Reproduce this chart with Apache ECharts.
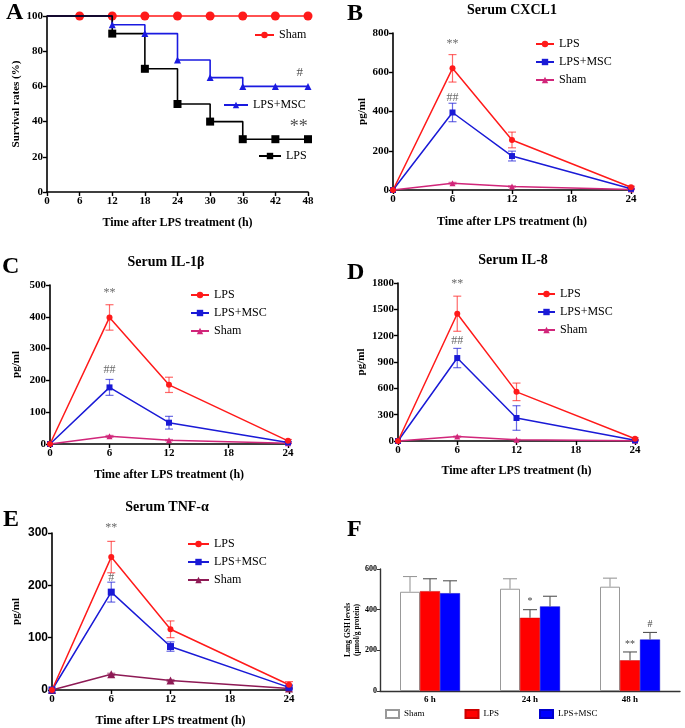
<!DOCTYPE html>
<html>
<head>
<meta charset="utf-8">
<script src="https://cdn.jsdelivr.net/npm/echarts@6/dist/echarts.min.js"></script>
<style>
html,body{margin:0;padding:0;background:#fff;}
#chart{width:685px;height:728px;}
</style>
</head>
<body>
<div id="chart"></div>
<script>
// ---------- DATA ----------
// Panel A: survival (step curves)
const survShamT = [0, 6, 12, 18, 24, 30, 36, 42, 48];
const survSham  = [100, 100, 100, 100, 100, 100, 100, 100, 100];
const survMscT  = [0, 12, 18, 24, 30, 36, 42, 48];
const survMsc   = [100, 95, 90, 75, 65, 60, 60, 60];
const survLpsT  = [0, 12, 18, 24, 30, 36, 42, 48];
const survLps   = [100, 90, 70, 50, 40, 30, 30, 30];

// Panels B-E: serum cytokines
const cytTimes = [0, 6, 12, 24];
const cxclLps = [0, 620, 255, 14],  cxclLpsErr = [0, 70, 40, 5];
const cxclMsc = [0, 395, 173, 6],   cxclMscErr = [0, 47, 25, 3];
const cxclSham = [0, 35, 18, 2],    cxclShamErr = [0, 4, 3, 1];

const il1Lps = [0, 398, 186, 10],   il1LpsErr = [0, 40, 24, 4];
const il1Msc = [0, 178, 67, 5],     il1MscErr = [0, 25, 20, 3];
const il1Sham = [0, 24, 12, 2],     il1ShamErr = [0, 3, 2, 1];

const il8Lps = [0, 1450, 560, 25],  il8LpsErr = [0, 200, 100, 10];
const il8Msc = [0, 945, 262, 8],    il8MscErr = [0, 110, 140, 5];
const il8Sham = [0, 50, 15, 3],     il8ShamErr = [0, 6, 4, 1];

const tnfLps = [0, 254, 116, 10],   tnfLpsErr = [0, 30, 16, 6];
const tnfMsc = [0, 187, 83, 5],     tnfMscErr = [0, 19, 9, 3];
const tnfSham = [0, 30, 18, 3],     tnfShamErr = [0, 2, 2, 1];

// significance marks (x, y in data units, text)
const annA = [[46.5, 68, '#'], [46.3, 37, '**']];
const annB = [[6, 745, '**'], [6, 472, '##']];
const annC = [[6, 475, '**'], [6, 232, '##']];
const annD = [[6, 1790, '**'], [6, 1140, '##']];
const annE = [[6, 310, '**'], [6, 215, '#']];

// Panel F: lung GSH
const gshCats = ['6 h', '24 h', '48 h'];
const gshSham = [488, 503, 513], gshShamErr = [75, 49, 42];
const gshLps  = [491, 360, 151], gshLpsErr  = [61, 40, 41];
const gshMsc  = [481, 416, 253], gshMscErr  = [61, 50, 35];
const gshLpsMarks = ['', '*', '**'];
const gshMscMarks = ['', '', '#'];

// ---------- STYLE ----------
const SERIF = '"Liberation Serif", "Times New Roman", serif';
const SANS = '"Liberation Sans", Arial, sans-serif';
const RED = '#ff1a1a', BLUE = '#1a1ad6', PINK = '#d1267a', MAROON = '#8e1a55';

const chart = echarts.init(document.getElementById('chart'), null, {renderer: 'canvas'});

const pairs = (xs, ys) => xs.map((x, i) => [x, ys[i]]);
const triples = (xs, ys, es) => xs.map((x, i) => [x, ys[i], es[i]]);
const plain = v => String(v);

function axisLab(size, fam) {
  return {color: '#000', fontFamily: fam || SERIF, fontWeight: 'bold', fontSize: size || 11, margin: 4, formatter: plain};
}
function valueX(grid, max, interval, name, nameGap) {
  return {
    type: 'value', gridIndex: grid, min: 0, max: max, interval: interval,
    axisLine: {show: true, lineStyle: {color: '#000', width: 1.6}},
    axisTick: {show: true, length: 4, lineStyle: {color: '#000', width: 1.4}},
    axisLabel: axisLab(11),
    splitLine: {show: false},
    name: name, nameLocation: 'middle', nameGap: nameGap,
    nameTextStyle: {color: '#000', fontFamily: SERIF, fontWeight: 'bold', fontSize: 12}
  };
}
function valueY(grid, max, interval, name, nameGap, labFam, labSize) {
  return {
    type: 'value', gridIndex: grid, min: 0, max: max, interval: interval,
    axisLine: {show: true, lineStyle: {color: '#000', width: 1.6}},
    axisTick: {show: true, length: 4, lineStyle: {color: '#000', width: 1.4}},
    axisLabel: axisLab(labSize || 11, labFam),
    splitLine: {show: false},
    name: name, nameLocation: 'middle', nameGap: nameGap, nameRotate: 90,
    nameTextStyle: {color: '#000', fontFamily: SERIF, fontWeight: 'bold', fontSize: 11}
  };
}

function errSeries(name, grid, xs, ys, es, color) {
  return {
    type: 'custom', name: name, xAxisIndex: grid, yAxisIndex: grid, z: 1, clip: false,
    data: triples(xs, ys, es),
    encode: {x: 0, y: 1},
    renderItem: function (params, api) {
      const x = api.value(0), y = api.value(1), e = api.value(2);
      if (!e) return null;
      const hi = api.coord([x, y + e]);
      const lo = api.coord([x, Math.max(0, y - e)]);
      const w = 4;
      const st = {stroke: color, lineWidth: 1.2, opacity: 0.65};
      return {type: 'group', children: [
        {type: 'line', shape: {x1: hi[0], y1: hi[1], x2: lo[0], y2: lo[1]}, style: st},
        {type: 'line', shape: {x1: hi[0] - w, y1: hi[1], x2: hi[0] + w, y2: hi[1]}, style: st},
        {type: 'line', shape: {x1: lo[0] - w, y1: lo[1], x2: lo[0] + w, y2: lo[1]}, style: st}
      ]};
    }
  };
}

function lineSeries(name, grid, xs, ys, color, symbol, size) {
  return {
    type: 'line', name: name, xAxisIndex: grid, yAxisIndex: grid, z: 3, clip: false,
    data: pairs(xs, ys), symbol: symbol, symbolSize: size,
    lineStyle: {color: color, width: 1.5},
    itemStyle: {color: color}
  };
}

function annSeries(grid, arr, color, size) {
  return {
    type: 'scatter', name: 'ann' + grid, xAxisIndex: grid, yAxisIndex: grid, z: 5,
    symbolSize: 0, silent: true, clip: false,
    data: arr.map(a => ({value: [a[0], a[1]], label: {formatter: a[2]}})),
    label: {show: true, position: 'inside', color: color, fontFamily: SERIF, fontSize: size}
  };
}

function survSeries(name, xs, ys, color, symbol, size) {
  return {
    type: 'line', name: name, xAxisIndex: 0, yAxisIndex: 0, step: 'end', clip: false,
    data: xs.map((x, i) => (i === 0 ? {value: [x, ys[i]], symbol: 'none'} : [x, ys[i]])),
    symbol: symbol, symbolSize: size, z: symbol === 'circle' ? 2 : 3,
    lineStyle: {color: color, width: 1.6},
    itemStyle: {color: color}
  };
}

function legendAt(left, top, names, itemW, gap) {
  return {
    left: left, top: top, orient: 'vertical', padding: 0, itemGap: gap || 7,
    itemWidth: itemW || 19, itemHeight: 8, selectedMode: false,
    data: names,
    formatter: n => n.split('_')[1],
    textStyle: {color: '#000', fontFamily: SERIF, fontSize: 12, padding: [0, 0, 0, 0]}
  };
}

// Panel F error bars (upper only), offset from band centre by bar slot
function gshErr(name, vals, errs, slot, color) {
  return {
    type: 'custom', name: name, xAxisIndex: 5, yAxisIndex: 5, z: 4, clip: false,
    data: vals.map((v, i) => [i, v, errs[i]]),
    encode: {x: 0, y: 1},
    renderItem: function (params, api) {
      const band = api.size([1, 0])[0];
      const off = band * 0.2 * slot;
      const p = api.coord([api.value(0), api.value(1)]);
      const hi = api.coord([api.value(0), api.value(1) + api.value(2)]);
      const x = p[0] + off, w = band * 0.07;
      const st = {stroke: color, lineWidth: 1.1};
      return {type: 'group', children: [
        {type: 'line', shape: {x1: x, y1: p[1], x2: x, y2: hi[1]}, style: st},
        {type: 'line', shape: {x1: x - w, y1: hi[1], x2: x + w, y2: hi[1]}, style: st}
      ]};
    }
  };
}
function gshMarks(name, vals, errs, marks, slot) {
  return {
    type: 'custom', name: name, xAxisIndex: 5, yAxisIndex: 5, z: 6, clip: false, silent: true,
    data: vals.map((v, i) => [i, v + errs[i]]),
    encode: {x: 0, y: 1},
    renderItem: function (params, api) {
      const t = marks[params.dataIndex];
      if (!t) return null;
      const band = api.size([1, 0])[0];
      const p = api.coord([api.value(0), api.value(1)]);
      return {type: 'text', x: p[0] + band * 0.2 * slot, y: p[1] - 3,
        style: {text: t, fill: '#444', font: '10px ' + SERIF, align: 'center', verticalAlign: 'bottom'}};
    }
  };
}

const titleStyle = {color: '#000', fontFamily: SERIF, fontWeight: 'bold', fontSize: 14};
const letterStyle = {color: '#000', fontFamily: SERIF, fontWeight: 'bold', fontSize: 24};

const option = {
  animation: false,
  backgroundColor: '#fff',
  title: [
    {text: 'A', left: 6, top: 1, textStyle: letterStyle, padding: 0},
    {text: 'B', left: 347, top: 2, textStyle: letterStyle, padding: 0},
    {text: 'C', left: 2, top: 255, textStyle: letterStyle, padding: 0},
    {text: 'D', left: 347, top: 261, textStyle: letterStyle, padding: 0},
    {text: 'E', left: 3, top: 508, textStyle: letterStyle, padding: 0},
    {text: 'F', left: 347, top: 518, textStyle: letterStyle, padding: 0},
    {text: 'Serum CXCL1', left: 512, top: 3, textAlign: 'center', textStyle: titleStyle, padding: 0},
    {text: 'Serum IL-1β', left: 166, top: 255, textAlign: 'center', textStyle: titleStyle, padding: 0},
    {text: 'Serum IL-8', left: 513, top: 253, textAlign: 'center', textStyle: titleStyle, padding: 0},
    {text: 'Serum TNF-α', left: 167, top: 500, textAlign: 'center', textStyle: titleStyle, padding: 0}
  ],
  grid: [
    {left: 47, top: 16, width: 261, height: 176},
    {left: 393, top: 33, width: 238, height: 157},
    {left: 50, top: 285, width: 238, height: 159},
    {left: 398, top: 283, width: 237, height: 158},
    {left: 52, top: 533, width: 237, height: 157},
    {left: 380, top: 569, width: 300, height: 122}
  ],
  xAxis: [
    valueX(0, 48, 6, 'Time after LPS treatment (h)', 25),
    valueX(1, 24, 6, 'Time after LPS treatment (h)', 26),
    valueX(2, 24, 6, 'Time after LPS treatment (h)', 25),
    valueX(3, 24, 6, 'Time after LPS treatment (h)', 24),
    valueX(4, 24, 6, 'Time after LPS treatment (h)', 25),
    {
      type: 'category', gridIndex: 5, data: gshCats,
      axisLine: {show: true, lineStyle: {color: '#333', width: 1.4}},
      axisTick: {show: false},
      axisLabel: {color: '#000', fontFamily: SERIF, fontWeight: 'bold', fontSize: 9, margin: 4}
    }
  ],
  yAxis: [
    valueY(0, 100, 20, 'Survival rates (%)', 25),
    valueY(1, 800, 200, 'pg/ml', 25),
    valueY(2, 500, 100, 'pg/ml', 28),
    valueY(3, 1800, 300, 'pg/ml', 31),
    valueY(4, 300, 100, 'pg/ml', 30, SANS, 12),
    {
      type: 'value', gridIndex: 5, min: 0, max: 600, interval: 200,
      axisLine: {show: true, lineStyle: {color: '#333', width: 1.4}},
      axisTick: {show: true, length: 3, lineStyle: {color: '#333'}},
      axisLabel: {color: '#000', fontFamily: SERIF, fontWeight: 'bold', fontSize: 8, margin: 3, formatter: plain},
      splitLine: {show: false},
      name: 'Lung GSH levels\n(μmol/g protein)', nameLocation: 'middle', nameGap: 18, nameRotate: 90,
      nameTextStyle: {color: '#000', fontFamily: SERIF, fontWeight: 'bold', fontSize: 7.5, lineHeight: 9}
    }
  ],
  legend: [
    legendAt(254, 29, ['A_Sham'], 19),
    legendAt(223, 99, ['A_LPS+MSC'], 24),
    legendAt(258, 150, ['A_LPS'], 22),
    legendAt(535, 38, ['B_LPS', 'B_LPS+MSC', 'B_Sham'], 18, 6),
    legendAt(190, 289, ['C_LPS', 'C_LPS+MSC', 'C_Sham'], 18, 6),
    legendAt(537, 288, ['D_LPS', 'D_LPS+MSC', 'D_Sham'], 17, 6),
    legendAt(187, 538, ['E_LPS', 'E_LPS+MSC', 'E_Sham'], 21, 6),
    {left: 385, top: 709, orient: 'horizontal', padding: 0, itemGap: 40, itemWidth: 13, itemHeight: 8,
      icon: 'rect', selectedMode: false, data: ['F_Sham', 'F_LPS', 'F_LPS+MSC'], formatter: n => n.split('_')[1],
      textStyle: {color: '#000', fontFamily: SERIF, fontSize: 9}}
  ],
  series: [
    // A
    survSeries('A_Sham', survShamT, survSham, '#ff1a1a', 'circle', 9),
    survSeries('A_LPS+MSC', survMscT, survMsc, '#1a1ae0', 'triangle', 7),
    survSeries('A_LPS', survLpsT, survLps, '#000', 'rect', 8),
    {
      type: 'scatter', name: 'annA', xAxisIndex: 0, yAxisIndex: 0, symbolSize: 0, silent: true, clip: false, z: 5,
      data: annA.map((a, i) => ({value: [a[0], a[1]], label: {formatter: a[2], fontSize: i === 1 ? 18 : 13}})),
      label: {show: true, position: 'inside', color: '#222', fontFamily: SERIF}
    },
    // B
    errSeries('eB1', 1, cytTimes, cxclLps, cxclLpsErr, RED),
    errSeries('eB2', 1, cytTimes, cxclMsc, cxclMscErr, BLUE),
    errSeries('eB3', 1, cytTimes, cxclSham, cxclShamErr, PINK),
    lineSeries('B_Sham', 1, cytTimes, cxclSham, PINK, 'triangle', 6),
    lineSeries('B_LPS+MSC', 1, cytTimes, cxclMsc, BLUE, 'rect', 6),
    lineSeries('B_LPS', 1, cytTimes, cxclLps, RED, 'circle', 6),
    annSeries(1, annB, '#444', 12),
    // C
    errSeries('eC1', 2, cytTimes, il1Lps, il1LpsErr, RED),
    errSeries('eC2', 2, cytTimes, il1Msc, il1MscErr, BLUE),
    errSeries('eC3', 2, cytTimes, il1Sham, il1ShamErr, PINK),
    lineSeries('C_Sham', 2, cytTimes, il1Sham, PINK, 'triangle', 6),
    lineSeries('C_LPS+MSC', 2, cytTimes, il1Msc, BLUE, 'rect', 6),
    lineSeries('C_LPS', 2, cytTimes, il1Lps, RED, 'circle', 6),
    annSeries(2, annC, '#444', 12),
    // D
    errSeries('eD1', 3, cytTimes, il8Lps, il8LpsErr, RED),
    errSeries('eD2', 3, cytTimes, il8Msc, il8MscErr, BLUE),
    errSeries('eD3', 3, cytTimes, il8Sham, il8ShamErr, PINK),
    lineSeries('D_Sham', 3, cytTimes, il8Sham, PINK, 'triangle', 6),
    lineSeries('D_LPS+MSC', 3, cytTimes, il8Msc, BLUE, 'rect', 6),
    lineSeries('D_LPS', 3, cytTimes, il8Lps, RED, 'circle', 6),
    annSeries(3, annD, '#444', 12),
    // E
    errSeries('eE1', 4, cytTimes, tnfLps, tnfLpsErr, RED),
    errSeries('eE2', 4, cytTimes, tnfMsc, tnfMscErr, BLUE),
    errSeries('eE3', 4, cytTimes, tnfSham, tnfShamErr, MAROON),
    lineSeries('E_Sham', 4, cytTimes, tnfSham, MAROON, 'triangle', 8),
    lineSeries('E_LPS+MSC', 4, cytTimes, tnfMsc, BLUE, 'rect', 7),
    lineSeries('E_LPS', 4, cytTimes, tnfLps, RED, 'circle', 6),
    annSeries(4, annE, '#444', 12),
    // F
    {type: 'bar', name: 'F_Sham', xAxisIndex: 5, yAxisIndex: 5, data: gshSham, barWidth: '20%', barGap: '0%',
      itemStyle: {color: '#fff', borderColor: '#999', borderWidth: 1}},
    {type: 'bar', name: 'F_LPS', xAxisIndex: 5, yAxisIndex: 5, data: gshLps, barWidth: '20%', barGap: '0%',
      itemStyle: {color: '#ff0000', borderColor: '#c00', borderWidth: 0.5}},
    {type: 'bar', name: 'F_LPS+MSC', xAxisIndex: 5, yAxisIndex: 5, data: gshMsc, barWidth: '20%', barGap: '0%',
      itemStyle: {color: '#0000ff', borderColor: '#00c', borderWidth: 0.5}},
    gshErr('fe1', gshSham, gshShamErr, -1, '#999'),
    gshErr('fe2', gshLps, gshLpsErr, 0, '#555'),
    gshErr('fe3', gshMsc, gshMscErr, 1, '#555'),
    gshMarks('fm2', gshLps, gshLpsErr, gshLpsMarks, 0),
    gshMarks('fm3', gshMsc, gshMscErr, gshMscMarks, 1)
  ]
};
chart.setOption(option);
</script>
</body>
</html>
